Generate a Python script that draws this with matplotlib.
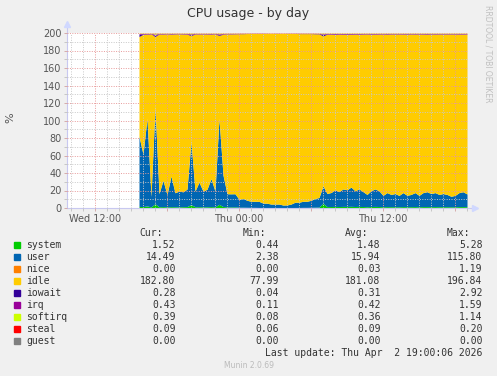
import numpy as np
import pandas as pd
import matplotlib
matplotlib.use('Agg')
import matplotlib.pyplot as plt
import matplotlib.dates as mdates
from matplotlib.ticker import MultipleLocator, FuncFormatter

# samples every 20 minutes, Wed 15:40 -> Thu 19:00
times = pd.date_range('2026-04-01 15:40', '2026-04-02 19:00', freq='20min')
view_start = pd.Timestamp('2026-04-01 09:40')
view_end = pd.Timestamp('2026-04-02 19:00')
cpu_total = 200  # 2 cores

user = [80, 60, 100, 12, 110, 15, 30, 14, 35, 16, 18, 17, 20, 72, 18, 28, 18, 20, 32, 18, 98, 36, 15, 15, 15, 9,
        10, 8, 7, 7, 7, 5, 5, 4, 4, 4, 3, 3, 4, 6, 6, 7, 7, 8, 10, 11, 20, 15, 16, 19, 17, 20, 19, 22, 18,
        20, 17, 14, 18, 20, 18, 13, 16, 14, 15, 13, 16, 13, 14, 16, 13, 16, 17, 15, 16, 14, 15, 14, 12, 13, 16, 17, 14.49]
system = [1.8, 1.6, 2.4, 1.2, 4.8, 1.4, 1.6, 1.3, 1.5, 1.4, 1.3, 1.5, 1.6, 3.9, 1.4, 1.5, 1.3, 1.4, 1.6, 1.3, 4.2, 1.7, 1.3, 1.2, 1.3, 0.9,
          0.9, 0.8, 0.7, 0.7, 0.6, 0.6, 0.5, 0.5, 0.5, 0.5, 0.4, 0.5, 0.5, 0.6, 0.6, 0.7, 0.7, 0.8, 0.9, 1.0, 5.3, 1.6, 1.7, 1.8, 1.7, 1.8, 1.8, 1.9, 1.7,
          1.8, 1.7, 1.5, 1.7, 1.8, 1.7, 1.4, 1.6, 1.5, 1.5, 1.4, 1.6, 1.5, 1.5, 1.6, 1.4, 1.6, 1.6, 1.5, 1.6, 1.5, 1.5, 1.5, 1.4, 1.4, 1.6, 1.6, 1.52]
nice = [0.0, 0.1, 0.0, 0.0, 1.2, 0.0, 0.0, 0.0, 0.0, 0.0, 0.0, 0.0, 0.0, 0.3, 0.0, 0.0, 0.0, 0.0, 0.0, 0.0, 0.2, 0.0, 0.0, 0.0, 0.0, 0.0,
        0.0, 0.0, 0.0, 0.0, 0.0, 0.0, 0.0, 0.0, 0.0, 0.0, 0.0, 0.0, 0.0, 0.0, 0.0, 0.0, 0.0, 0.0, 0.0, 0.0, 0.4, 0.0, 0.0, 0.0, 0.0, 0.0, 0.0, 0.0, 0.0,
        0.0, 0.0, 0.0, 0.0, 0.0, 0.0, 0.0, 0.0, 0.0, 0.0, 0.0, 0.0, 0.0, 0.0, 0.0, 0.0, 0.0, 0.0, 0.0, 0.0, 0.0, 0.0, 0.0, 0.0, 0.0, 0.0, 0.0, 0.0]
iowait = [2.9, 0.4, 0.3, 0.2, 1.1, 0.3, 0.3, 0.2, 0.4, 0.3, 0.2, 0.3, 0.3, 0.9, 0.3, 0.2, 0.3, 0.3, 0.4, 0.2, 0.8, 0.3, 0.2, 0.3, 0.2, 0.2,
          0.2, 0.1, 0.1, 0.1, 0.1, 0.1, 0.1, 0.0, 0.1, 0.1, 0.0, 0.1, 0.1, 0.1, 0.2, 0.2, 0.2, 0.2, 0.3, 0.3, 1.6, 0.4, 0.4, 0.5, 0.4, 0.4, 0.5, 0.4, 0.4,
          0.4, 0.3, 0.3, 0.4, 0.3, 0.3, 0.3, 0.4, 0.3, 0.3, 0.3, 0.3, 0.4, 0.3, 0.3, 0.3, 0.3, 0.4, 0.3, 0.3, 0.3, 0.3, 0.3, 0.3, 0.3, 0.3, 0.3, 0.28]
irq = [0.6, 0.5, 0.7, 0.4, 1.6, 0.4, 0.5, 0.4, 0.5, 0.4, 0.4, 0.4, 0.5, 1.2, 0.4, 0.5, 0.4, 0.4, 0.5, 0.4, 1.1, 0.5, 0.4, 0.4, 0.4, 0.3,
       0.3, 0.2, 0.2, 0.2, 0.2, 0.2, 0.1, 0.1, 0.1, 0.1, 0.1, 0.1, 0.1, 0.2, 0.2, 0.2, 0.2, 0.2, 0.3, 0.3, 0.8, 0.5, 0.5, 0.6, 0.5, 0.6, 0.5, 0.6, 0.5,
       0.5, 0.5, 0.4, 0.5, 0.5, 0.5, 0.4, 0.5, 0.4, 0.4, 0.4, 0.5, 0.4, 0.4, 0.5, 0.4, 0.5, 0.5, 0.4, 0.5, 0.4, 0.4, 0.4, 0.4, 0.4, 0.5, 0.5, 0.43]
softirq = [0.5, 0.4, 0.6, 0.3, 1.1, 0.4, 0.4, 0.3, 0.4, 0.3, 0.3, 0.4, 0.4, 0.9, 0.3, 0.4, 0.3, 0.4, 0.4, 0.3, 0.9, 0.4, 0.3, 0.3, 0.3, 0.2,
           0.2, 0.2, 0.2, 0.1, 0.1, 0.1, 0.1, 0.1, 0.1, 0.1, 0.1, 0.1, 0.1, 0.1, 0.2, 0.2, 0.2, 0.2, 0.2, 0.3, 0.8, 0.4, 0.4, 0.5, 0.4, 0.5, 0.5, 0.5, 0.4,
           0.5, 0.4, 0.4, 0.4, 0.5, 0.4, 0.4, 0.4, 0.4, 0.4, 0.4, 0.4, 0.4, 0.4, 0.4, 0.4, 0.4, 0.4, 0.4, 0.4, 0.4, 0.4, 0.4, 0.4, 0.4, 0.4, 0.4, 0.39]
steal = [0.1, 0.1, 0.2, 0.1, 0.2, 0.1, 0.1, 0.1, 0.1, 0.1, 0.1, 0.1, 0.1, 0.1, 0.1, 0.1, 0.1, 0.1, 0.1, 0.1, 0.1, 0.1, 0.1, 0.1, 0.1, 0.1,
         0.1, 0.1, 0.1, 0.1, 0.1, 0.1, 0.1, 0.1, 0.1, 0.1, 0.1, 0.1, 0.1, 0.1, 0.1, 0.1, 0.1, 0.1, 0.1, 0.1, 0.1, 0.1, 0.1, 0.1, 0.1, 0.1, 0.1, 0.1, 0.1,
         0.1, 0.1, 0.1, 0.1, 0.1, 0.1, 0.1, 0.1, 0.1, 0.1, 0.1, 0.1, 0.1, 0.1, 0.1, 0.1, 0.1, 0.1, 0.1, 0.1, 0.1, 0.1, 0.1, 0.1, 0.1, 0.1, 0.1, 0.09]
guest = [0.0] * len(times)

names = ['system', 'user', 'nice', 'idle', 'iowait', 'irq', 'softirq', 'steal', 'guest']
colors = ['#00CC00', '#0066B3', '#FF8000', '#FFCC00', '#330099', '#990099', '#CCFF00', '#FF0000', '#808080']
cur = ['1.52', '14.49', '0.00', '182.80', '0.28', '0.43', '0.39', '0.09', '0.00']
mins = ['0.44', '2.38', '0.00', '77.99', '0.04', '0.11', '0.08', '0.06', '0.00']
avgs = ['1.48', '15.94', '0.03', '181.08', '0.31', '0.42', '0.36', '0.09', '0.00']
maxs = ['5.28', '115.80', '1.19', '196.84', '2.92', '1.59', '1.14', '0.20', '0.00']

busy = [np.array(s, float) for s in (system, user, nice, iowait, irq, softirq, steal, guest)]
idle = cpu_total - sum(busy)
series = [system, user, nice, idle, iowait, irq, softirq, steal, guest]

W, H = 497, 376
fig = plt.figure(figsize=(W / 100, H / 100), dpi=100, facecolor='#F0F0F0')
ax = fig.add_axes([67 / W, 1 - 208 / H, 400 / W, 175 / H], facecolor='white')

bottom = np.zeros(len(times))
for vals, c in zip(series, colors):
    top = bottom + np.asarray(vals, float)
    ax.fill_between(times, bottom, top, color=c, lw=0, zorder=1)
    bottom = top

ax.set_xlim(view_start, view_end)
ax.set_ylim(0, 200)
ax.yaxis.set_major_locator(MultipleLocator(20))
ax.yaxis.set_minor_locator(MultipleLocator(10))
ax.xaxis.set_major_locator(mdates.HourLocator(byhour=[0, 6, 12, 18]))
ax.xaxis.set_minor_locator(mdates.HourLocator())

def xfmt(v, pos):
    d = mdates.num2date(v)
    return d.strftime('%a %H:%M') if d.hour in (0, 12) else ''
ax.xaxis.set_major_formatter(FuncFormatter(xfmt))

ax.set_axisbelow(False)
ax.grid(which='major', color='#E89A9A', linestyle=(0, (1, 1.5)), linewidth=0.7)
ax.grid(which='minor', color='#C8C8C8', linestyle=(0, (1, 1.5)), linewidth=0.7)
ax.tick_params(which='both', length=2, width=0.6, color='#D0A0A0', labelsize=7, labelcolor='#555555', pad=2)
ax.tick_params(which='minor', color='#C0C0C0')

for s in ('top', 'right'):
    ax.spines[s].set_visible(False)
for s in ('left', 'bottom'):
    ax.spines[s].set_color('#C8C8F0')
    ax.spines[s].set_linewidth(0.8)
# axis arrows
ax.plot([0, 0], [1, 1.045], color='#C8C8F0', lw=0.8, transform=ax.transAxes, clip_on=False)
ax.plot([0], [1.05], marker='^', ms=5, color='#D0D8FF', transform=ax.transAxes, clip_on=False)
ax.plot([1, 1.018], [0, 0], color='#C8C8F0', lw=0.8, transform=ax.transAxes, clip_on=False)
ax.plot([1.02], [0], marker='>', ms=5, color='#D0D8FF', transform=ax.transAxes, clip_on=False)

fig.text(248 / W, 1 - 14 / H, 'CPU usage - by day', ha='center', va='center', fontsize=9, color='#333333')
fig.text(10 / W, 1 - 118 / H, '%', ha='center', va='center', rotation=90, fontsize=8, color='#555555')
fig.text(488 / W, 1 - 5 / H, 'RRDTOOL / TOBI OETIKER', ha='center', va='top', rotation=270, fontsize=5.5, color='#C0C0C0')

mono = dict(family='DejaVu Sans Mono', fontsize=7, color='#333333', va='center')
col_x = [175.5, 278.5, 380.5, 482.5]
for hx, h in zip([163, 266.5, 368, 470], ['Cur:', 'Min:', 'Avg:', 'Max:']):
    fig.text(hx / W, 1 - 233 / H, h, ha='right', **mono)
for i, n in enumerate(names):
    y = 1 - (245 + 12 * i) / H
    fig.patches.append(plt.Rectangle((14 / W, y - 3 / H), 6 / W, 6 / H, color=colors[i], transform=fig.transFigure, figure=fig))
    fig.text(26.5 / W, y, n, ha='left', **mono)
    for cx, v in zip(col_x, (cur[i], mins[i], avgs[i], maxs[i])):
        fig.text(cx / W, y, v, ha='right', **mono)
fig.text(482.5 / W, 1 - 353 / H, 'Last update: Thu Apr  2 19:00:06 2026', ha='right', **mono)
fig.text(249 / W, 1 - 365 / H, 'Munin 2.0.69', ha='center', va='center', fontsize=5.5, color='#BBBBBB')

fig.savefig('out.png', dpi=100, facecolor=fig.get_facecolor())
